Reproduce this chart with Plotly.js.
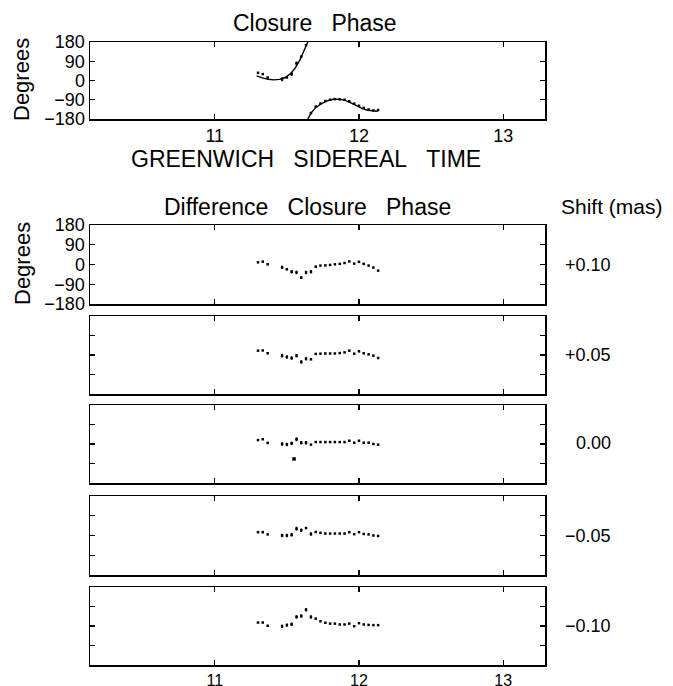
<!DOCTYPE html>
<html><head><meta charset="utf-8">
<script src="https://cdn.plot.ly/plotly-3.0.1.min.js"></script>
<style>body{margin:0;background:#fff}#chart{width:673px;height:686px}</style>
</head><body><div id="chart"></div>
<script>
// ---- data ----
const times = [11.300, 11.333, 11.367, 11.467, 11.500, 11.533, 11.567, 11.600, 11.633, 11.667, 11.700, 11.733,
               11.767, 11.800, 11.833, 11.867, 11.900, 11.933, 11.967, 12.000, 12.033, 12.067, 12.100, 12.133];

// top panel: observed closure phase (deg) and model curve
const closurePhase = [36, 30, 14, 6, 14, 30, 80, 112, 165, -152, -122, -108, -96, -90, -87, -88, -90, -97, -108, -118, -128, -136, -140, -138];
const closureErr   = [0, 0, 0, 9, 0, 9, 9, 0, 0, 0, 0, 0, 0, 0, 0, 0, 0, 0, 0, 0, 0, 0, 0, 0];
const modelTime  = [11.29, 11.33, 11.37, 11.41, 11.45, 11.49, 11.53, 11.56, 11.59, 11.62, 11.645, null,
                    11.645, 11.67, 11.70, 11.74, 11.78, 11.82, 11.86, 11.90, 11.94, 11.98, 12.02, 12.06, 12.10, 12.13];
const modelPhase = [22, 12, 6, 3, 5, 14, 35, 60, 95, 140, 180, null,
                    -180, -150, -127, -108, -95, -88, -87, -92, -103, -117, -130, -139, -143, -144];

// difference closure phase (deg) for each position shift
const shiftLabels = ["+0.10", "+0.05", "0.00", "\u22120.05", "\u22120.10"];
const diffP010 = [10, 13, 1, -13, -22, -33, -36, -60, -36, -33, -10, -5, -4, -2, 1, 3, 7, 14, 4, 12, 3, -5, -14, -28];
const diffP005 = [20, 21, 8, -3, -9, -14, -3, -32, -17, -20, 5, 6, 7, 7, 7, 9, 12, 20, 6, 17, 8, 3, -3, -14];
const diff000  = [18, 22, 5, 0, -2, 3, 22, 6, 6, -3, 9, 9, 9, 9, 9, 9, 9, 15, 6, 15, 6, 6, 0, -3];
const diffM005 = [15, 15, 5, 0, 0, 3, 31, 24, 34, 7, 16, 12, 9, 9, 9, 9, 9, 15, 6, 15, 7, 5, 0, -2];
const diffM010 = [16, 16, 1, -1, 4, 8, 42, 46, 75, 42, 34, 22, 15, 11, 11, 7, 7, 11, -1, 13, 7, 5, 4, 4];
const outlier000Time = [11.55];
const outlier000 = [-69];
const errP010 = [0, 0, 0, 8, 0, 8, 8, 6, 8, 8, 0, 0, 0, 0, 0, 0, 0, 0, 0, 0, 0, 0, 0, 0];
const errP005 = [0, 0, 0, 8, 8, 8, 8, 8, 8, 0, 0, 0, 0, 0, 0, 0, 0, 0, 0, 0, 0, 0, 0, 0];
const err000  = [0, 0, 0, 8, 8, 8, 9, 8, 8, 0, 0, 0, 0, 0, 0, 0, 0, 0, 0, 0, 0, 0, 0, 0];
const errM005 = [0, 0, 0, 8, 8, 8, 9, 8, 0, 8, 0, 0, 0, 0, 0, 0, 0, 0, 0, 0, 0, 0, 0, 0];
const errM010 = [0, 0, 0, 8, 8, 8, 8, 8, 8, 8, 0, 0, 0, 0, 0, 0, 0, 0, 0, 0, 0, 0, 0, 0];

const xTickVals = [11, 12, 13];
const yTickVals = [-180, -90, 0, 90, 180];
const yTickText = ["\u2212180", "\u221290", "0", "90", "180"];

// ---- layout ----
const W = 673, H = 686;
const FONT = "Liberation Sans, Arial, Helvetica, sans-serif";
const xDom = [90 / W, 545 / W];
const boxes = [[42, 119], [225, 304], [316, 394], [405, 483], [496, 575], [587, 665]];
const yDom = b => [1 - b[1] / H, 1 - b[0] / H];

const diffs = [diffP010, diffP005, diff000, diffM005, diffM010];
const errs = [errP010, errP005, err000, errM005, errM010];

function xAxis(i, labels) {
  return {domain: xDom, range: [10.135, 13.29], tickvals: xTickVals, ticks: "inside", ticklen: 5,
          tickwidth: 1.2, tickcolor: "#000", mirror: "ticks", showline: true, linecolor: "#000",
          linewidth: 1.5, showgrid: false, zeroline: false, showticklabels: labels,
          tickfont: {family: FONT, size: i === 5 ? 16 : 18, color: "#000"}, anchor: i === 0 ? "y" : "y" + (i + 1),
          fixedrange: true};
}
function yAxis(i, labels) {
  return {domain: yDom(boxes[i]), range: [-180, 180], tickvals: yTickVals, ticktext: yTickText,
          ticks: "inside", ticklen: 5, tickwidth: 1.2, tickcolor: "#000", mirror: "ticks",
          showline: true, linecolor: "#000", linewidth: 1.5, showgrid: false, zeroline: false,
          showticklabels: labels, tickfont: {family: FONT, size: 18, color: "#000"},
          anchor: i === 0 ? "x" : "x" + (i + 1), fixedrange: true};
}

const MK = {symbol: "square", size: 2.5, color: "#000"};
const traces = [];
traces.push({x: modelTime, y: modelPhase, mode: "lines", line: {color: "#000", width: 1.4},
             xaxis: "x", yaxis: "y", connectgaps: false, hoverinfo: "skip"});
traces.push({x: times, y: closurePhase, mode: "markers", marker: MK,
             error_y: {type: "data", array: closureErr, visible: true, thickness: 1.6, width: 0, color: "#000"},
             xaxis: "x", yaxis: "y"});
diffs.forEach((d, k) => {
  const n = k + 2;
  traces.push({x: times, y: d, mode: "markers", marker: MK,
               error_y: {type: "data", array: errs[k], visible: true, thickness: 1.6, width: 0, color: "#000"},
               xaxis: "x" + n, yaxis: "y" + n});
});
traces.push({x: outlier000Time, y: outlier000, mode: "markers", marker: {symbol: "square", size: 3.5, color: "#000"},
             xaxis: "x4", yaxis: "y4"});

const layout = {
  width: W, height: H, margin: {l: 0, r: 0, t: 0, b: 0}, showlegend: false,
  paper_bgcolor: "#fff", plot_bgcolor: "#fff", font: {family: FONT, color: "#000"},
  annotations: []
};
for (let i = 0; i < 6; i++) {
  layout[i === 0 ? "xaxis" : "xaxis" + (i + 1)] = xAxis(i, i === 0 || i === 5);
  layout[i === 0 ? "yaxis" : "yaxis" + (i + 1)] = yAxis(i, i === 0 || i === 1);
}
const ann = (text, px, py, size, opts) => Object.assign({text: text, x: px / W, y: 1 - py / H,
  xref: "paper", yref: "paper", showarrow: false, xanchor: "center", yanchor: "middle",
  font: {family: FONT, size: size, color: "#000"}}, opts || {});
const sp = "\u00A0\u00A0\u00A0";
layout.annotations.push(ann("Closure" + sp + "Phase", 315, 23, 23));
layout.annotations.push(ann("GREENWICH" + sp + "SIDEREAL" + sp + "TIME", 306, 159, 23));
layout.annotations.push(ann("Degrees", 22, 80, 22, {textangle: -90}));
layout.annotations.push(ann("Difference" + sp + "Closure" + sp + "Phase", 307, 207, 23));
layout.annotations.push(ann("Shift (mas)", 612, 207, 21));
layout.annotations.push(ann("Degrees", 22, 264, 22, {textangle: -90}));
const shiftY = [265, 355, 443, 536, 626];
shiftLabels.forEach((s, k) => layout.annotations.push(ann(s, 613, shiftY[k], 18, {xanchor: "right"})));

Plotly.newPlot("chart", traces, layout, {staticPlot: true, displayModeBar: false});
</script></body></html>
